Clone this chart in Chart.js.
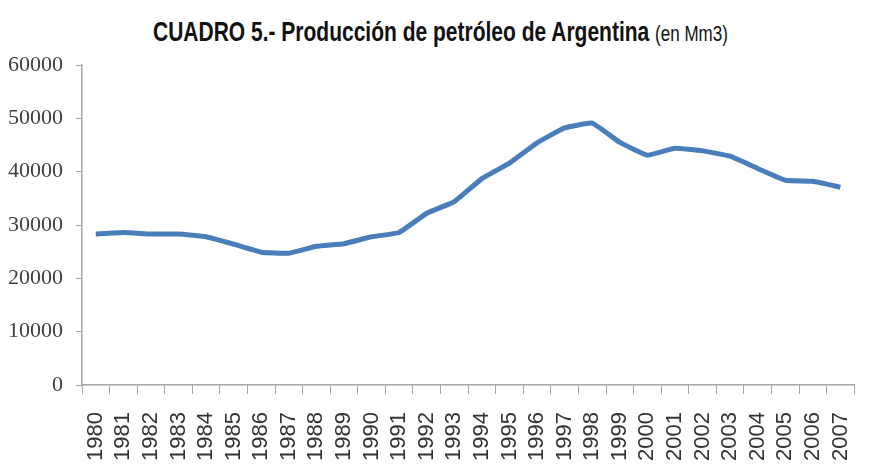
<!DOCTYPE html>
<html>
<head>
<meta charset="utf-8">
<script src="https://cdn.jsdelivr.net/npm/chart.js@4"></script>
<style>
  html, body { margin: 0; padding: 0; background: #fff; overflow: hidden; width: 871px; height: 470px; }
  #wrap { position: relative; width: 871px; height: 470px; overflow: hidden; }
  #title {
    position: absolute; left: 153px; top: 15px; white-space: nowrap;
    font-family: "Liberation Sans Narrow", "Arial Narrow", sans-serif;
    font-weight: bold; font-size: 21px; color: #111;
    transform: scaleY(1.35); transform-origin: left top;
  }
  #title span { font-size: 17px; font-weight: normal; }
  canvas { position: absolute; left: 0; top: 0; }
</style>
</head>
<body>
<div id="wrap">
  <div id="title">CUADRO 5.- Producción de petróleo de Argentina <span>(en Mm3)</span></div>
  <canvas id="chart" width="885" height="470"></canvas>
</div>
<script>
// data
const years = ['1980', '1981', '1982', '1983', '1984', '1985', '1986', '1987', '1988', '1989',
  '1990', '1991', '1992', '1993', '1994', '1995', '1996', '1997', '1998', '1999',
  '2000', '2001', '2002', '2003', '2004', '2005', '2006', '2007'];
const production = [28300, 28600, 28300, 28300, 27800, 26400, 24900, 24700, 26000, 26500,
  27800, 28600, 32200, 34400, 38700, 41600, 45400, 48200, 49100, 45500,
  43100, 44400, 43900, 42900, 40600, 38400, 38200, 37100];
const yMin = 0;
const yMax = 60000;
const yStep = 10000;

const axisGray = '#a6a6a6';

const ctx = document.getElementById('chart').getContext('2d');
new Chart(ctx, {
  type: 'line',
  data: {
    labels: years,
    datasets: [{
      label: 'Producción',
      data: production,
      borderColor: '#4a7ebb',
      borderWidth: 5,
      pointRadius: 0,
      tension: 0.1,
      fill: false,
    }],
  },
  options: {
    responsive: false,
    animation: false,
    layout: { padding: { top: 65, right: 9, left: 0, bottom: 0 } },
    plugins: {
      legend: { display: false },
      title: { display: false },
      tooltip: { enabled: false },
    },
    scales: {
      x: {
        offset: true,
        grid: { offset: true, drawOnChartArea: false, color: axisGray, tickLength: 9 },
        border: { color: axisGray, width: 1.5 },
        ticks: {
          autoSkip: false, minRotation: 90, maxRotation: 90, padding: 18,
          color: '#333', font: { family: 'Liberation Sans', size: 22 },
        },
        afterFit: (scale) => { scale.height = 85; },
      },
      y: {
        min: yMin,
        max: yMax,
        grid: { drawOnChartArea: false, color: axisGray, tickLength: 6 },
        border: { color: axisGray, width: 1.5 },
        ticks: {
          stepSize: yStep, padding: 13,
          color: '#404040', font: { family: 'Liberation Sans Narrow', size: 22 },
          callback: (v) => String(v),
        },
        afterFit: (scale) => { scale.width = 82; },
      },
    },
  },
});
</script>
</body>
</html>
